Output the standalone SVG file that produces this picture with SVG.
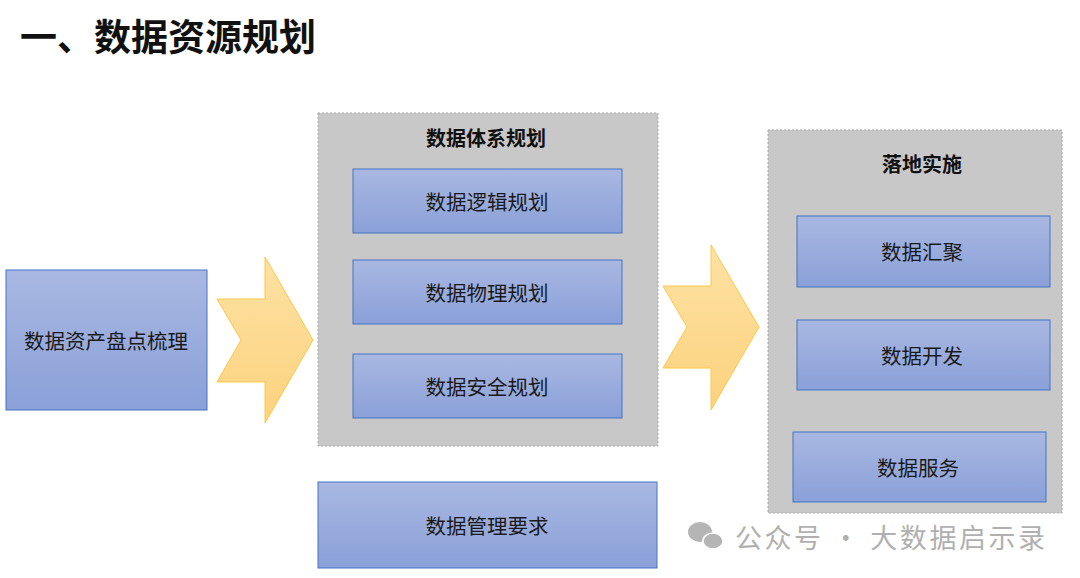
<svg xmlns="http://www.w3.org/2000/svg" width="1080" height="578" viewBox="0 0 1080 578">
<defs>
<linearGradient id="bg" x1="0" y1="0" x2="0" y2="1"><stop offset="0" stop-color="#a9b8e2"/><stop offset="1" stop-color="#8aa0d8"/></linearGradient>
<linearGradient id="ag" x1="0" y1="0" x2="0" y2="1"><stop offset="0" stop-color="#fde2a3"/><stop offset="1" stop-color="#fcd27e"/></linearGradient>
<style>
.b{fill:url(#bg);stroke:#4472c4;stroke-width:1}
.g{fill:#c8c8c8;stroke:#a6a6a6;stroke-width:1;stroke-dasharray:2 2}
.t{font-family:"Noto Sans CJK SC",sans-serif;font-size:20.5px;fill:#1a1a1a;text-anchor:middle;dominant-baseline:central}
.h{font-family:"Noto Sans CJK SC",sans-serif;font-size:20px;font-weight:bold;fill:#111;text-anchor:middle;dominant-baseline:central}
.a{fill:url(#ag);stroke:#fcc74a;stroke-width:1}
</style>
</defs>
<rect width="1080" height="578" fill="#fff"/>
<text x="20" y="35" font-family="Noto Sans CJK SC,sans-serif" font-size="37" font-weight="bold" fill="#111" dominant-baseline="central">一、数据资源规划</text>
<g id="group-system"><rect class="g" x="318" y="113" width="340" height="333"/><text class="h" x="486" y="137">数据体系规划</text></g>
<g id="group-landing"><rect class="g" x="768" y="130" width="294" height="383"/><text class="h" x="922" y="163">落地实施</text></g>
<g id="n-inventory"><rect class="b" x="6" y="270" width="201" height="140"/><text class="t" x="106" y="340">数据资产盘点梳理</text></g>
<g id="n-logic"><rect class="b" x="353" y="169" width="269" height="64"/><text class="t" x="487" y="201">数据逻辑规划</text></g>
<g id="n-physical"><rect class="b" x="353" y="260" width="269" height="64"/><text class="t" x="487" y="292">数据物理规划</text></g>
<g id="n-security"><rect class="b" x="353" y="354" width="269" height="64"/><text class="t" x="487" y="386">数据安全规划</text></g>
<g id="n-mgmt"><rect class="b" x="318" y="482" width="339" height="86"/><text class="t" x="487" y="525">数据管理要求</text></g>
<g id="n-agg"><rect class="b" x="797" y="216" width="253" height="71"/><text class="t" x="922" y="251">数据汇聚</text></g>
<g id="n-dev"><rect class="b" x="797" y="320" width="253" height="70"/><text class="t" x="922" y="355">数据开发</text></g>
<g id="n-svc"><rect class="b" x="793" y="432" width="253" height="70"/><text class="t" x="918" y="467">数据服务</text></g>
<g id="connectors">
<polygon class="a" points="217,299 265,299 265,257 313,340 265,423 265,382 217,382 241,340"/>
<polygon class="a" points="663,286 711,286 711,245 759,327 711,410 711,368 663,368 687,327"/>
</g>
<g id="watermark" fill="#b5b5b5">
<ellipse cx="700" cy="532" rx="12" ry="10"/><ellipse cx="713" cy="541" rx="10" ry="8" stroke="#fff" stroke-width="1.5"/>
<text x="735" y="536" font-family="Noto Sans CJK SC,sans-serif" font-size="27" fill="#b0b0b0" dominant-baseline="central" textLength="310" lengthAdjust="spacing">公众号 · 大数据启示录</text>
</g>
</svg>
